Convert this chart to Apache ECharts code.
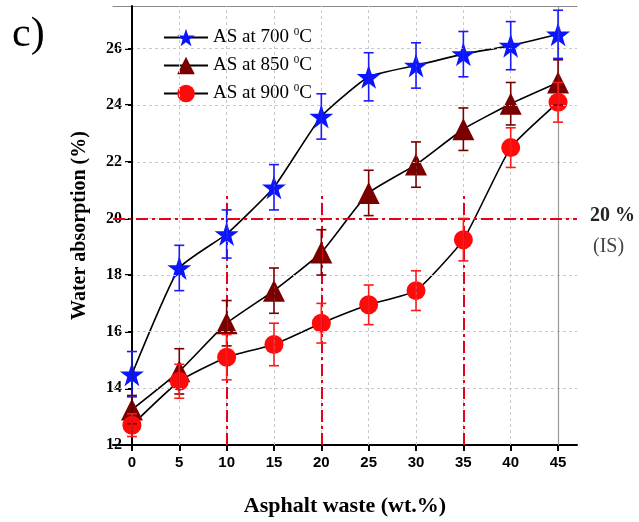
<!DOCTYPE html>
<html><head><meta charset="utf-8">
<script src="https://cdn.jsdelivr.net/npm/echarts@6/dist/echarts.min.js"></script>
<style>html,body{margin:0;padding:0;background:#fff}#c{width:639px;height:522px}</style>
</head><body><div id="c"></div>
<script>
const xValues = [0, 5, 10, 15, 20, 25, 30, 35, 40, 45];
const as700 = [14.5, 18.25, 19.45, 21.1, 23.6, 25.0, 25.4, 25.8, 26.1, 26.5];
const as850 = [13.25, 14.6, 16.3, 17.45, 18.8, 20.9, 21.9, 23.15, 24.05, 24.8];
const as900 = [12.7, 14.25, 15.1, 15.55, 16.3, 16.95, 17.45, 19.25, 22.5, 24.1];
const err700 = [0.8, 0.8, 0.85, 0.8, 0.8, 0.85, 0.8, 0.8, 0.85, 0.85];
const err850 = [0.5, 0.8, 0.8, 0.8, 0.8, 0.8, 0.8, 0.75, 0.75, 0.8];
const err900 = [0.4, 0.6, 0.8, 0.75, 0.7, 0.7, 0.7, 0.75, 0.7, 0.7];
const xTicks = [0, 5, 10, 15, 20, 25, 30, 35, 40, 45];
const yTicks = [12, 14, 16, 18, 20, 22, 24, 26];
const limitValue = 20;
const limitCrossX = [10, 20, 35];
const limitTopY = 20.9;

const serif = 'Liberation Serif';
const chart = echarts.init(document.getElementById('c'));

function pts(ys){ return xValues.map((x,i)=>[x, ys[i]]); }
function errData(ys, es){ return xValues.map((x,i)=>[x, ys[i]-es[i], ys[i]+es[i]]); }
function errSeries(ys, es, color){
  return {
    type:'custom', z:5, silent:true,
    data: errData(ys, es),
    renderItem(params, api){
      const x=api.value(0), lo=api.value(1), hi=api.value(2);
      const a=api.coord([x,hi]), b=api.coord([x,lo]);
      const w=5, st={stroke:color, lineWidth:1.6};
      return {type:'group', children:[
        {type:'line', shape:{x1:a[0],y1:a[1],x2:b[0],y2:b[1]}, style:st},
        {type:'line', shape:{x1:a[0]-w,y1:a[1],x2:a[0]+w,y2:a[1]}, style:st},
        {type:'line', shape:{x1:b[0]-w,y1:b[1],x2:b[0]+w,y2:b[1]}, style:st}
      ]};
    }
  };
}
const dashDot = [12, 4, 3, 4];
function lineSeries(name, ys, symbol, size, color){
  return {
    name, type:'line', data: pts(ys), smooth:0.15,
    symbol, symbolSize:size,
    lineStyle:{color:'#000', width:1.6},
    itemStyle:{color:color, borderWidth:0},
    z:3
  };
}
const starPath = 'path://M50,0 L61.8,35.1 L97.6,35.1 L68.5,56.7 L79.4,91.6 L50,70 L20.6,91.6 L31.5,56.7 L2.4,35.1 L38.2,35.1 Z';

const option = {
  animation:false,
  grid:{left:113, right:62, top:6, bottom:77},
  legend:{
    left:158, top:22, orient:'vertical', itemGap:8,
    itemWidth:44, itemHeight:22,
    data:['AS at 700 °C','AS at 850 °C','AS at 900 °C'],
    formatter(n){ const t=n.match(/\d+/)[0]; return 'AS at '+t+' {s|0}C'; },
    textStyle:{fontFamily:serif, fontSize:19, color:'#000',
      rich:{s:{fontSize:11, verticalAlign:'top', padding:[0,0,10,0], fontFamily:serif, color:'#000'}}}
  },
  xAxis:[{
    type:'value', min:-2, max:47,
    axisLine:{onZero:false, lineStyle:{color:'#000', width:2}},
    axisTick:{customValues:xTicks, length:6, lineStyle:{color:'#000', width:2}},
    axisLabel:{customValues:xTicks, fontFamily:'Liberation Sans', fontWeight:'bold', fontSize:15, color:'#000', margin:10},
    splitLine:{show:false},
    name:'Asphalt waste (wt.%)', nameLocation:'middle', nameGap:50,
    nameTextStyle:{fontFamily:serif, fontWeight:'bold', fontSize:22, color:'#000'}
  },{
    type:'value', min:-2, max:47, position:'top',
    axisLine:{show:true, lineStyle:{color:'#888', width:1}},
    axisTick:{show:false}, axisLabel:{show:false}, splitLine:{show:false}
  }],
  yAxis:{
    type:'value', min:12, max:27.5, offset:-19,
    axisLine:{show:true, lineStyle:{color:'#000', width:2}},
    axisTick:{customValues:yTicks, length:7, lineStyle:{color:'#000', width:2}},
    axisLabel:{customValues:yTicks, fontFamily:serif, fontWeight:'bold', fontSize:16, color:'#000', margin:10},
    splitLine:{show:false},
    name:'Water absorption (%)', nameLocation:'middle', nameGap:42,
    nameTextStyle:{fontFamily:serif, fontWeight:'bold', fontSize:20, color:'#000'}
  },
  graphic:[
    {type:'text', left:12, top:14, style:{text:'c)', font:'42px "Liberation Serif"', fill:'#000'}},
    {type:'text', left:590, top:206, style:{text:'20 %', font:'bold 20px "Liberation Serif"', fill:'#222'}},
    {type:'text', left:593, top:237, style:{text:'(IS)', font:'20px "Liberation Serif"', fill:'#444'}}
  ],
  series:[
    {
      type:'line', data:[], silent:true,
      markLine:{
        silent:true, symbol:'none', label:{show:false},
        lineStyle:{color:'#c8c8c8', type:[3,3], width:1},
        data: xTicks.filter(v=>v!==0 && v!==45).map(v=>({xAxis:v}))
          .concat(yTicks.filter(v=>v!==12).map(v=>({yAxis:v})))
      }
    },
    {
      type:'line', data:[], silent:true,
      markLine:{
        silent:true, symbol:'none', label:{show:false},
        lineStyle:{color:'#999', type:'solid', width:1.2},
        data:[{xAxis:45}]
      }
    },
    {
      type:'line', data:[], silent:true, z:2,
      markLine:{
        silent:true, symbol:'none', label:{show:false},
        lineStyle:{color:'#e8001c', type:dashDot, width:2},
        data:[[{coord:[-2,limitValue]},{coord:[47,limitValue]}]].concat(
          limitCrossX.map(x=>[{coord:[x,12]},{coord:[x,limitTopY]}]))
      }
    },
    {
      type:'line', data:[], silent:true, z:2,
      markLine:{
        silent:true, symbol:'none', label:{show:false},
        lineStyle:{color:'#000', type:'solid', width:2},
        data:[{xAxis:0}]
      }
    },
    lineSeries('AS at 700 °C', as700, starPath, 24, '#0a14ff'),
    lineSeries('AS at 850 °C', as850, 'triangle', 22, '#7a0000'),
    lineSeries('AS at 900 °C', as900, 'circle', 19, '#ff0a0a'),
    errSeries(as700, err700, '#1a1aff'),
    errSeries(as850, err850, '#7a0000'),
    errSeries(as900, err900, '#ff1a1a')
  ]
};
chart.setOption(option);
</script></body></html>
